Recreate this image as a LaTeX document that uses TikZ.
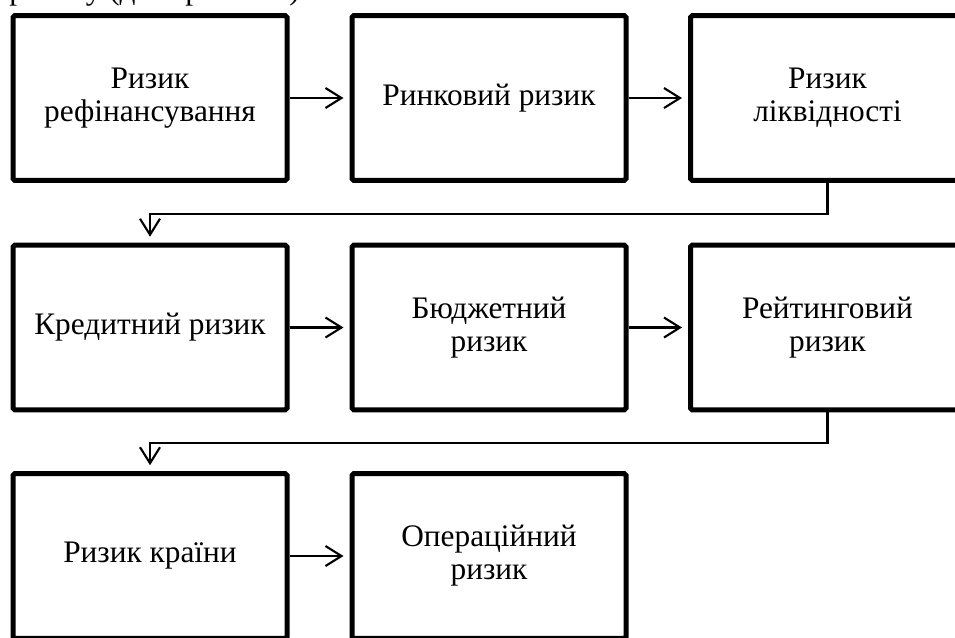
\documentclass[tikz,border=0pt]{standalone}
\usepackage{fontspec}
\setmainfont{Liberation Serif}
\usetikzlibrary{arrows.meta}
\tikzset{
  txt/.style={font=\fontsize{23.5pt}{24.75pt}\selectfont},
  box/.style={txt, draw=black, line width=3.75pt, rounded corners=1.2pt, fill=white,
    minimum width=205.5pt, minimum height=123.4pt, inner sep=0pt, align=center},
  conn/.style={draw=black, line width=1.6pt, -{Straight Barb[length=12pt,width=15pt,line width=1.6pt]}, shorten >=4.5pt},
  link/.style={draw=black, line width=1.6pt, -{Straight Barb[length=12pt,width=15pt,line width=1.6pt]}, shorten >=4.5pt, rounded corners=0pt}
}
\begin{document}
\begin{tikzpicture}[x=0.75pt,y=-0.75pt]
\useasboundingbox (0,0) rectangle (955,637);
\node[txt, anchor=base east, inner sep=0pt] (cap) at (300,-1) {ризику (див. рис. 1.1)};
\node[box] (b1) at (150,98) {Ризик\\рефінансування};
\node[box] (b2) at (489,98) {Ринковий ризик};
\node[box] (b3) at (827.5,98) {Ризик\\ліквідності};
\node[box] (b4) at (150,327.5) {Кредитний ризик};
\node[box] (b5) at (489,327.5) {Бюджетний\\ризик};
\node[box] (b6) at (827.5,327.5) {Рейтинговий\\ризик};
\node[box] (b7) at (150,556) {Ризик країни};
\node[box] (b8) at (489,556) {Операційний\\ризик};
\draw[conn] (b1.east) -- (b2.west);
\draw[conn] (b2.east) -- (b3.west);
\draw[conn] (b4.east) -- (b5.west);
\draw[conn] (b5.east) -- (b6.west);
\draw[conn] (b7.east) -- (b8.west);
\draw[link] (b3.south) -- ++(0,31) -| (b4.north);
\draw[link] (b6.south) -- ++(0,31) -| (b7.north);
\end{tikzpicture}
\end{document}
